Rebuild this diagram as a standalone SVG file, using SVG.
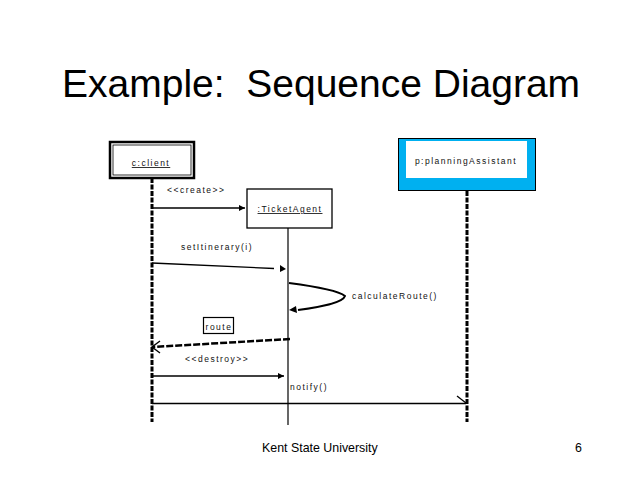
<svg xmlns="http://www.w3.org/2000/svg" width="638" height="479" viewBox="0 0 638 479">
<style>
.t{font-family:"Liberation Sans",Arial,sans-serif;fill:#000;white-space:pre}
.s{font-family:"Liberation Sans",Arial,sans-serif;font-size:8.5px;letter-spacing:1.5px;fill:#111}
.life{stroke:#000;stroke-width:3;stroke-dasharray:5 1.5;fill:none}
.msg{stroke:#000;stroke-width:1.3;fill:none}
</style>
<defs>
<marker id="fa" markerWidth="8" markerHeight="8" refX="7" refY="4" orient="auto" markerUnits="userSpaceOnUse">
<path d="M1,1 L7,4 L1,7 Z" fill="#000"/>
</marker>
</defs>
<rect width="638" height="479" fill="#fff"/>
<text class="t" x="62" y="97" font-size="39" xml:space="preserve">Example:  Sequence Diagram</text>
<text class="t" x="262" y="452" font-size="12.4">Kent State University</text>
<text class="t" x="582" y="452" font-size="12.4" text-anchor="end">6</text>

<g id="client">
<rect x="110" y="142" width="84" height="36" fill="#fff" stroke="#000" stroke-width="2.5"/>
<rect x="113" y="145" width="78" height="30" fill="none" stroke="#000" stroke-width="0.8"/>
<text class="s" x="151" y="166" text-anchor="middle" text-decoration="underline">c:client</text>
</g>
<g id="ticketAgent">
<rect x="247" y="189" width="85" height="39" fill="#fff" stroke="#000" stroke-width="1.3"/>
<text class="s" x="290" y="212" text-anchor="middle" text-decoration="underline">:TicketAgent</text>
</g>
<g id="planningAssistant">
<rect x="398.5" y="138.5" width="137" height="52" fill="#00B0F0" stroke="#000" stroke-width="1"/>
<rect x="406" y="141" width="121" height="37" fill="#fff"/>
<text class="s" x="466" y="164" text-anchor="middle">p:planningAssistant</text>
</g>
<g id="route">
<rect x="203.5" y="317.5" width="30" height="16" fill="#fff" stroke="#000" stroke-width="1.2"/>
<text class="s" x="219" y="330" text-anchor="middle" letter-spacing="1">route</text>
</g>

<g id="connectors">
<line class="life" x1="152" y1="178" x2="152" y2="422"/>
<line class="life" x1="467" y1="191" x2="467" y2="422"/>
<line x1="288" y1="228" x2="288" y2="425" stroke="#000" stroke-width="1.2"/>

<line class="msg" x1="152" y1="208" x2="245" y2="208" marker-end="url(#fa)"/>
<text class="s" x="167" y="193">&lt;&lt;create&gt;&gt;</text>

<line class="msg" x1="152" y1="263" x2="274" y2="268.5"/>
<path d="M280,265 L286,269 L280,272 Z" fill="#000"/>
<text class="s" x="181" y="250">setItinerary(i)</text>

<path d="M289,283 C320,287 340,292 345,296 C343,303 320,307 298,310" fill="none" stroke="#000" stroke-width="2"/>
<path d="M296,306 L289,310 L297,313 Z" fill="#000"/>
<text class="s" x="352" y="299">calculateRoute()</text>

<path d="M290,339 L153,347" fill="none" stroke="#000" stroke-width="2.5" stroke-dasharray="7 2"/>
<path d="M160,341 L152,347 L160,353" fill="none" stroke="#000" stroke-width="1.4"/>

<text class="s" x="185" y="362">&lt;&lt;destroy&gt;&gt;</text>
<line class="msg" x1="152" y1="376" x2="284" y2="376" marker-end="url(#fa)"/>

<text class="s" x="290" y="390">notify()</text>
<line class="msg" x1="152" y1="403.5" x2="466" y2="403.5"/>
<line class="msg" x1="457" y1="396" x2="466" y2="403"/>
</g>
</svg>
